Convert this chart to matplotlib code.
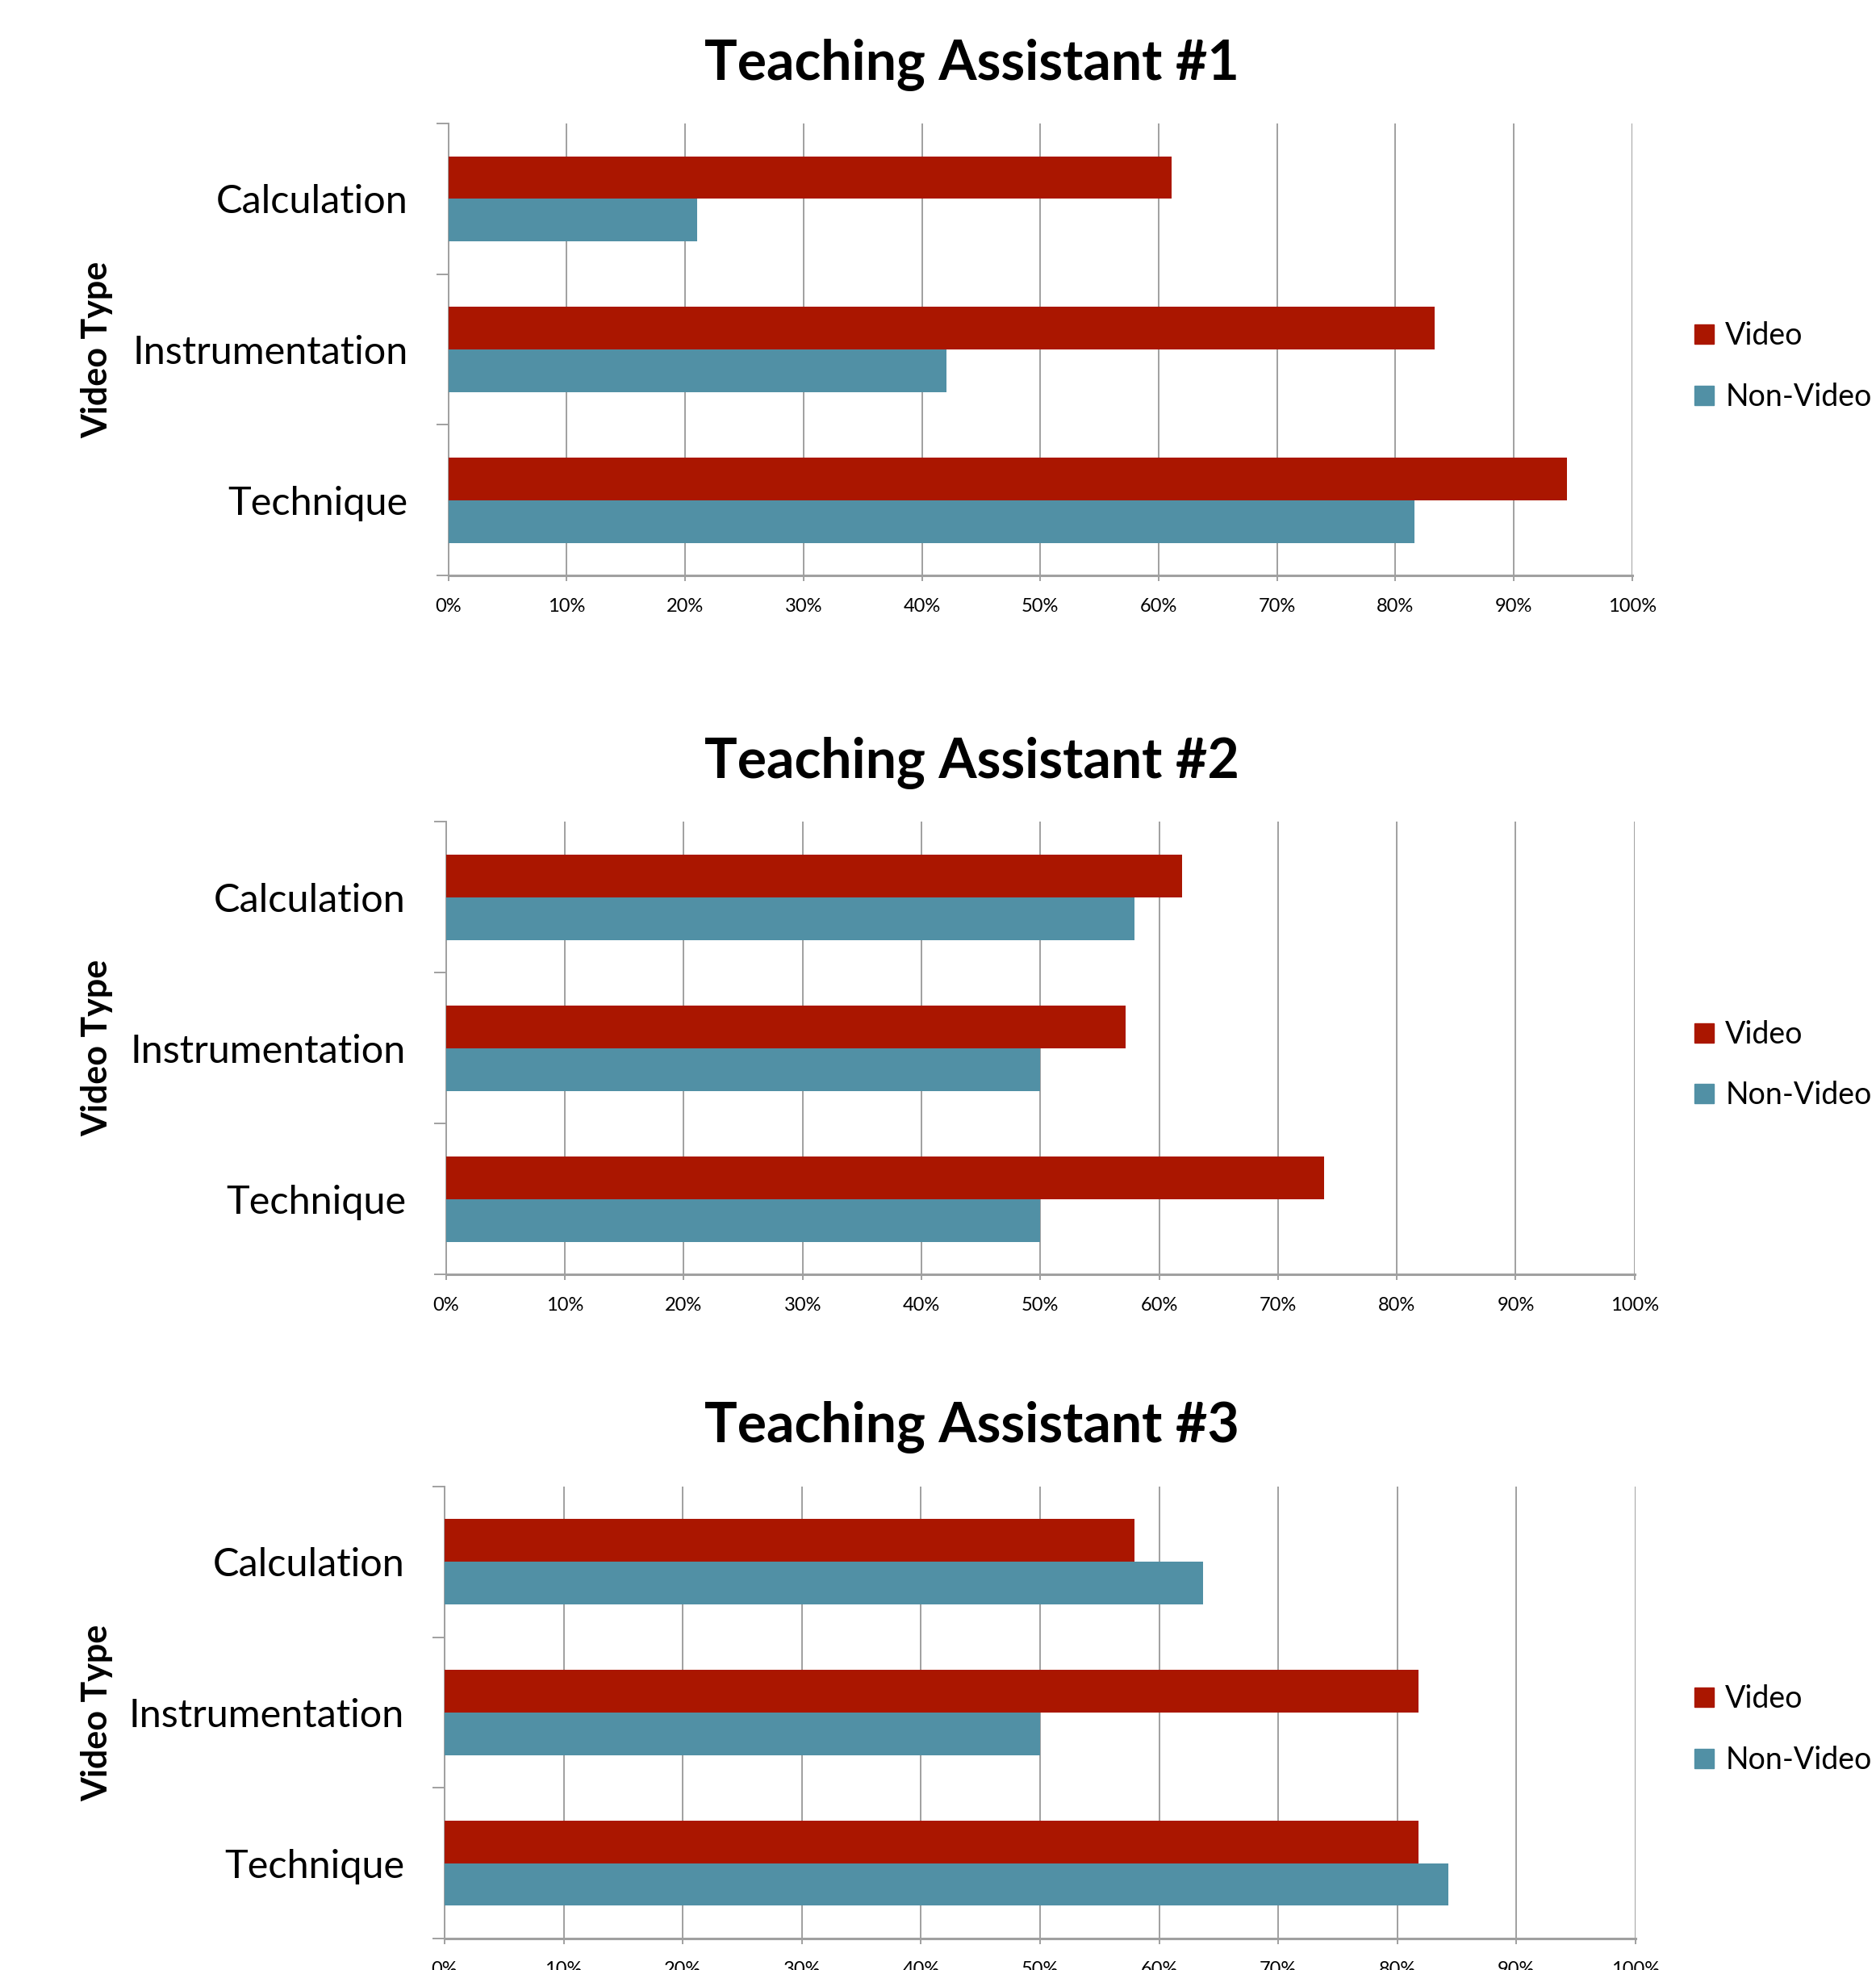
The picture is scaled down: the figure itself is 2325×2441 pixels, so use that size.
import matplotlib
matplotlib.use("Agg")
import matplotlib.pyplot as plt
from matplotlib.lines import Line2D

plt.rcParams['font.family'] = ['Lato', 'DejaVu Sans']

categories = ["Calculation", "Instrumentation", "Technique"]
series = ["Video", "Non-Video"]
titles = ["Teaching Assistant #1", "Teaching Assistant #2", "Teaching Assistant #3"]

# values in fraction, per panel, per category
ta1_video = [0.611, 0.833, 0.945]
ta1_nonvideo = [0.210, 0.421, 0.816]
ta2_video = [0.619, 0.572, 0.739]
ta2_nonvideo = [0.579, 0.500, 0.500]
ta3_video = [0.579, 0.818, 0.818]
ta3_nonvideo = [0.637, 0.500, 0.843]

xticks = [i / 10 for i in range(11)]
xticklabels = ["%d%%" % (i * 10) for i in range(11)]

red = "#AA1600"
blue = "#5190A5"
grid_col = "#A0A0A0"

fig = plt.figure(figsize=(23.25, 24.41), dpi=100)

panels = [
    (ta1_video, ta1_nonvideo, [0.239, 0.7079, 0.631, 0.2294], 0.967),
    (ta2_video, ta2_nonvideo, [0.2378, 0.3531, 0.6335, 0.2298], 0.6127),
    (ta3_video, ta3_nonvideo, [0.237, 0.016, 0.6348, 0.2294], 0.2755),
]

h = 0.283
for k, (vid, nonvid, rect, ty) in enumerate(panels):
    ax = fig.add_axes(rect)
    ys = list(range(len(categories)))
    ax.barh([y - h / 2 for y in ys], vid, height=h, color=red, zorder=3)
    ax.barh([y + h / 2 for y in ys], nonvid, height=h, color=blue, zorder=3)
    ax.set_xlim(0, 1)
    ax.set_ylim(2.5, -0.5)

    ax.set_xticks(xticks)
    ax.set_xticklabels(xticklabels, fontsize=17)
    ax.xaxis.grid(True, color=grid_col, linewidth=1.4, zorder=0)
    ax.tick_params(axis='x', length=5, width=1.4, color=grid_col, pad=15)

    ax.set_yticks([-0.5, 0.5, 1.5, 2.5])
    ax.set_yticklabels([])
    ax.set_yticks(ys, minor=True)
    ax.set_yticklabels(categories, minor=True, fontsize=35)
    ax.tick_params(axis='y', which='major', length=11, width=1.4, color=grid_col)
    ax.tick_params(axis='y', which='minor', length=0, pad=36)

    for s in ['top', 'right']:
        ax.spines[s].set_visible(False)
    ax.spines['left'].set_color(grid_col)
    ax.spines['left'].set_linewidth(1.4)
    ax.spines['bottom'].set_color(grid_col)
    ax.spines['bottom'].set_linewidth(2.2)

    fig.text(0.518, ty, titles[k], ha='center', va='center',
             fontsize=49, fontweight='bold')
    fig.text(0.0516, rect[1] + rect[3] / 2, "Video Type", rotation=90,
             ha='center', va='center', fontsize=31, fontweight='bold')

    handles = [Line2D([], [], marker='s', linestyle='none', markersize=17,
                      markerfacecolor=c, markeredgecolor=c) for c in (red, blue)]
    leg = fig.legend(handles, series, loc='center left',
                     bbox_to_anchor=(0.8955, rect[1] + rect[3] * 0.5 - 0.0086),
                     frameon=False, fontsize=27, handletextpad=0.3,
                     labelspacing=1.05, handlelength=0.8, borderaxespad=0)

fig.savefig("out.png", dpi=100)
